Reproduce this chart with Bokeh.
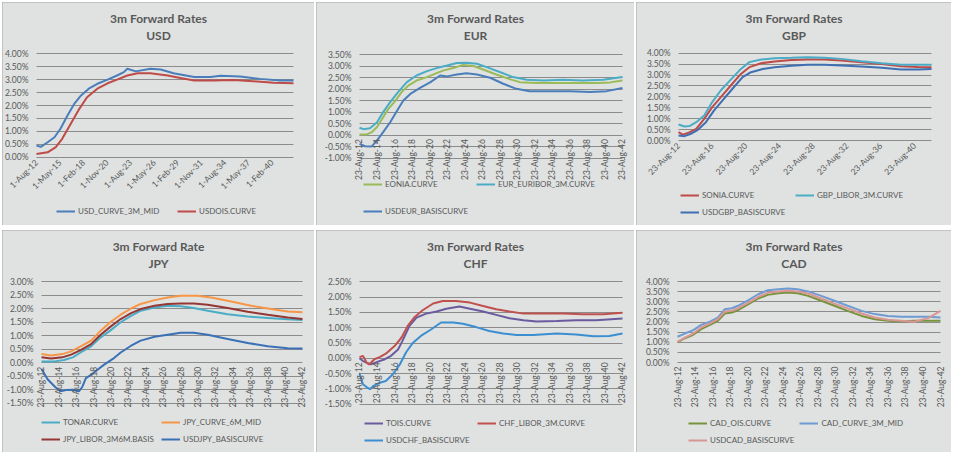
import math
from bokeh.plotting import figure
from bokeh.models import (Range1d, FixedTicker, PrintfTickFormatter, Legend,
                          LegendItem, Label)
from bokeh.layouts import row, column
from bokeh.embed import file_html
from bokeh.resources import INLINE

FONT = "Lato"
TXT = "#595959"
PANEL_BG = "#dfe2e1"
GRID = "#8c8c8c"

# ---------------- data (x in years after Aug-2012, y in %) ----------------
usd_ticks = [0, 2.75, 5.5, 8.25, 11, 13.75, 16.5, 19.25, 22, 24.75, 27.5]
usd_labels = ["1-Aug-12", "1-May-15", "1-Feb-18", "1-Nov-20", "1-Aug-23", "1-May-26",
              "1-Feb-29", "1-Nov-31", "1-Aug-34", "1-May-37", "1-Feb-40"]
biennial_ticks = [0, 2, 4, 6, 8, 10, 12, 14, 16, 18, 20, 22, 24, 26, 28, 30]
biennial_labels = ["23-Aug-12", "23-Aug-14", "23-Aug-16", "23-Aug-18", "23-Aug-20", "23-Aug-22",
                   "23-Aug-24", "23-Aug-26", "23-Aug-28", "23-Aug-30", "23-Aug-32", "23-Aug-34",
                   "23-Aug-36", "23-Aug-38", "23-Aug-40", "23-Aug-42"]
gbp_ticks = [0, 4, 8, 12, 16, 20, 24, 28]
gbp_labels = ["23-Aug-12", "23-Aug-16", "23-Aug-20", "23-Aug-24", "23-Aug-28",
              "23-Aug-32", "23-Aug-36", "23-Aug-40"]

# USD
usd_mid_x = [0, 0.5, 1.3, 2.1, 2.8, 3.6, 4.4, 5.2, 6.1, 7.1, 8.3, 9.4, 10.2, 10.6, 11.6,
             13.3, 14.5, 16.0, 18.4, 20.3, 21.5, 23.8, 26.1, 28.4, 30.0]
usd_mid_y = [0.45, 0.40, 0.58, 0.77, 1.10, 1.60, 2.06, 2.39, 2.65, 2.84, 3.00, 3.16, 3.29, 3.42, 3.32,
             3.42, 3.39, 3.25, 3.10, 3.10, 3.15, 3.12, 3.03, 2.97, 2.97]
usd_ois_x = [0, 1.3, 2.25, 3.0, 4.0, 5.0, 5.9, 7.1, 8.3, 9.4, 10.6, 11.8, 13.3, 15.3, 16.8,
             18.4, 20.7, 23.0, 25.3, 27.7, 30.0]
usd_ois_y = [0.12, 0.19, 0.39, 0.71, 1.29, 1.87, 2.32, 2.65, 2.86, 3.00, 3.16, 3.25, 3.25, 3.16, 3.06,
             2.97, 2.97, 2.99, 2.94, 2.88, 2.86]

# EUR
eonia_x = [0, 0.84, 1.4, 2.0, 2.7, 3.3, 4.1, 4.8, 5.6, 6.5, 7.7, 8.8, 9.6, 10.7, 11.8, 13.0,
           14.1, 15.6, 17.2, 18.3, 20.2, 22.5, 24.8, 27.1, 28.6, 30]
eonia_y = [0.03, 0.03, 0.13, 0.35, 0.78, 1.14, 1.50, 1.87, 2.16, 2.37, 2.52, 2.69, 2.81, 2.91, 3.05, 3.00,
           2.85, 2.63, 2.42, 2.30, 2.26, 2.26, 2.26, 2.26, 2.29, 2.37]
euribor_x = [0, 0.46, 1.2, 2.0, 2.7, 3.5, 4.4, 5.4, 6.5, 7.7, 8.8, 10.0, 11.1, 12.2, 13.4,
             14.5, 16.0, 17.5, 19.1, 21.0, 23.2, 25.5, 27.8, 30]
euribor_y = [0.32, 0.26, 0.30, 0.56, 1.00, 1.43, 1.87, 2.30, 2.59, 2.78, 2.91, 3.02, 3.13, 3.14, 3.10,
             2.95, 2.74, 2.52, 2.40, 2.37, 2.40, 2.37, 2.40, 2.52]
usdeur_x = [0, 0.65, 1.4, 2.0, 2.7, 3.5, 4.3, 5.0, 5.8, 6.9, 8.1, 9.2, 10.0, 11.1, 12.2, 13.4,
            14.9, 16.4, 17.9, 19.4, 21.7, 24.0, 26.3, 28.2, 30]
usdeur_y = [-0.38, -0.48, -0.49, -0.23, 0.13, 0.56, 1.07, 1.50, 1.79, 2.05, 2.30, 2.59, 2.55, 2.63, 2.69, 2.63,
            2.49, 2.23, 2.01, 1.91, 1.90, 1.91, 1.87, 1.91, 2.05]

# GBP
sonia_x = [0, 0.5, 1.1, 2.1, 3.05, 4.0, 5.0, 6.2, 7.4, 8.4, 9.8, 11.4, 13.4, 15.3, 17.3,
           19.3, 21.7, 24.1, 26.4, 28.4, 30]
sonia_y = [0.38, 0.27, 0.34, 0.53, 0.99, 1.53, 1.98, 2.52, 3.05, 3.36, 3.54, 3.62, 3.69, 3.71, 3.71,
           3.66, 3.59, 3.51, 3.40, 3.37, 3.36]
gbplibor_x = [0, 0.7, 1.3, 2.1, 3.05, 4.0, 5.0, 6.2, 7.4, 8.4, 9.8, 11.4, 13.4, 15.3, 17.3,
              19.3, 21.7, 24.1, 26.4, 28.4, 30]
gbplibor_y = [0.73, 0.64, 0.66, 0.84, 1.15, 1.76, 2.29, 2.79, 3.28, 3.59, 3.71, 3.77, 3.79, 3.82, 3.79,
              3.74, 3.63, 3.54, 3.47, 3.47, 3.47]
usdgbp_x = [0, 0.7, 1.5, 2.3, 3.25, 4.2, 5.2, 6.4, 7.6, 8.6, 10.0, 11.4, 13.4, 15.3, 17.3,
            19.3, 21.7, 24.1, 26.4, 28.4, 30]
usdgbp_y = [0.23, 0.20, 0.31, 0.49, 0.84, 1.37, 1.83, 2.37, 2.90, 3.13, 3.28, 3.36, 3.42, 3.47, 3.47,
            3.44, 3.39, 3.33, 3.25, 3.25, 3.28]

# JPY
tonar_x = [0, 1.5, 2.6, 3.6, 4.5, 5.7, 6.8, 7.9, 9.1, 10.3, 11.4, 13.0, 14.5, 16.0, 17.5,
           19.1, 21.4, 23.7, 26.0, 28.3, 30]
tonar_y = [0.05, 0.05, 0.10, 0.20, 0.38, 0.61, 0.94, 1.19, 1.50, 1.74, 1.93, 2.05, 2.11, 2.09, 2.03,
           1.93, 1.80, 1.71, 1.66, 1.61, 1.58]
jpy6m_x = [0, 1.1, 2.4, 3.4, 4.5, 5.7, 6.8, 7.9, 9.1, 10.3, 11.4, 13.0, 14.5, 16.0, 17.9,
           19.5, 21.8, 24.1, 26.4, 28.3, 30]
jpy6m_y = [0.32, 0.27, 0.32, 0.42, 0.61, 0.82, 1.19, 1.50, 1.78, 2.01, 2.18, 2.32, 2.42, 2.48, 2.48,
           2.42, 2.27, 2.11, 1.99, 1.90, 1.87]
jpybasis_x = [0, 1.1, 2.4, 3.4, 4.5, 5.7, 6.8, 7.9, 9.1, 10.3, 11.4, 13.0, 14.5, 16.0, 17.5,
              19.1, 21.4, 23.7, 26.0, 28.3, 30]
jpybasis_y = [0.20, 0.16, 0.20, 0.30, 0.47, 0.69, 1.04, 1.33, 1.62, 1.84, 1.99, 2.11, 2.18, 2.20, 2.20,
              2.15, 2.03, 1.89, 1.78, 1.68, 1.62]
usdjpy_x = [0, 0.7, 1.6, 2.2, 2.8, 3.6, 4.3, 4.7, 5.1, 5.7, 6.4, 7.2, 8.2, 9.1, 10.3, 11.4,
            13.0, 14.5, 16.0, 17.5, 19.1, 21.4, 23.7, 26.0, 28.3, 30]
usdjpy_y = [-0.23, -0.61, -0.91, -1.06, -1.01, -1.00, -1.06, -0.89, -0.57, -0.45, -0.27, -0.07, 0.14, 0.38, 0.63, 0.82,
            0.96, 1.04, 1.11, 1.11, 1.04, 0.88, 0.73, 0.61, 0.54, 0.53]

# CHF
tois_x = [0, 0.4, 0.8, 1.3, 2.1, 2.9, 3.6, 4.4, 4.9, 5.7, 6.5, 7.6, 8.8, 9.9, 11.4, 12.6,
          14.1, 15.6, 17.1, 18.7, 20.2, 22.5, 24.7, 27.0, 30]
tois_y = [0.00, -0.09, -0.14, -0.20, -0.11, -0.03, 0.08, 0.29, 0.57, 1.06, 1.33, 1.46, 1.53, 1.62, 1.69, 1.62,
          1.53, 1.42, 1.31, 1.24, 1.20, 1.22, 1.24, 1.24, 1.30]
chflibor_x = [0, 0.4, 0.8, 1.1, 1.7, 2.3, 3.0, 4.0, 4.8, 5.5, 6.3, 7.2, 8.4, 9.5, 11.0, 12.6,
              14.1, 15.6, 17.1, 18.7, 20.9, 23.2, 25.5, 27.8, 30]
chflibor_y = [0.04, 0.08, -0.14, -0.20, -0.03, 0.04, 0.15, 0.40, 0.68, 1.06, 1.35, 1.57, 1.79, 1.87, 1.87, 1.82,
              1.71, 1.60, 1.53, 1.46, 1.46, 1.46, 1.44, 1.44, 1.49]
usdchf_x = [0, 0.4, 0.8, 1.2, 1.6, 2.3, 3.0, 3.8, 4.6, 5.3, 6.1, 7.0, 8.2, 9.3, 10.7, 11.8,
            13.3, 14.8, 16.4, 17.9, 19.8, 22.5, 24.7, 26.7, 28.5, 30]
usdchf_y = [-0.50, -0.85, -0.94, -1.01, -0.90, -0.80, -0.74, -0.52, -0.20, 0.19, 0.51, 0.73, 0.95, 1.17, 1.17, 1.13,
            1.02, 0.89, 0.81, 0.76, 0.76, 0.81, 0.78, 0.72, 0.73, 0.81]

# CAD
cad_x = [0, 0.84, 1.8, 2.7, 3.7, 4.6, 5.4, 6.2, 6.9, 8.1, 9.2, 10.3, 11.5, 12.6, 13.7, 14.9,
         16.4, 17.9, 19.4, 21.0, 22.5, 24.0, 25.5, 27.0, 28.6, 30]
cadois_y = [0.99, 1.20, 1.37, 1.65, 1.86, 2.06, 2.42, 2.47, 2.58, 2.88, 3.16, 3.34, 3.42, 3.46, 3.42, 3.29,
            3.05, 2.80, 2.55, 2.30, 2.14, 2.06, 2.02, 2.06, 2.06, 2.06]
cad3m_y = [1.27, 1.43, 1.60, 1.86, 2.02, 2.22, 2.63, 2.68, 2.80, 3.08, 3.37, 3.57, 3.62, 3.65, 3.62, 3.51,
           3.29, 3.05, 2.80, 2.55, 2.39, 2.30, 2.26, 2.26, 2.26, 2.22]
usdcad_y = [1.02, 1.23, 1.43, 1.73, 1.93, 2.14, 2.52, 2.55, 2.68, 2.96, 3.24, 3.44, 3.51, 3.54, 3.51, 3.41,
            3.16, 2.91, 2.67, 2.42, 2.22, 2.11, 2.06, 2.01, 2.19, 2.55]

TITLE_ROWS = (15.5, 32.5)     # centres (px from panel top) of the two title lines


def y_ticks(lo, hi):
    n = int(round((hi - lo) / 0.5))
    return [lo + 0.5 * i for i in range(n + 1)]


def make_panel(head, sub, width, height, lr, yr, ypix, xticks, xlabels, orient,
               series, leg):
    bl, br = lr                      # pixel column of x=0 and distance of x=30 from right edge
    lo, hi = yr
    y_hi_px, y_lo_px = ypix          # pixel rows (from panel top) of top / bottom gridline
    ky = (y_lo_px - y_hi_px) / (hi - lo)
    ystart = lo - (height - y_lo_px) / ky
    yend = hi + y_hi_px / ky
    kx = (width - bl - br) / 30.0
    xstart = -bl / kx
    xend = 30 + br / kx
    p = figure(width=width, height=height, x_range=Range1d(xstart, xend),
               y_range=Range1d(ystart, yend),
               output_backend="svg", toolbar_location=None,
               min_border_left=0, min_border_right=0, min_border_top=0,
               min_border_bottom=0,
               styles={"outline": "1px solid #a3a3a3", "outline-offset": "-1px"})
    p.background_fill_color = PANEL_BG
    p.border_fill_color = PANEL_BG
    p.outline_line_color = None
    p.xgrid.visible = False

    yt = y_ticks(lo, hi)
    grid = p.ygrid[0]
    if hasattr(grid, "cross_bounds"):
        grid.cross_bounds = (0, 30)
        grid.grid_line_color = GRID
        grid.grid_line_width = 1
    else:
        grid.visible = False
        p.segment(x0=[0] * len(yt), x1=[30] * len(yt), y0=yt, y1=yt,
                  line_color=GRID, line_width=1)

    ya = p.yaxis[0]
    ya.ticker = FixedTicker(ticks=yt)
    ya.formatter = PrintfTickFormatter(format="%.2f%%")
    ya.axis_line_color = None
    ya.major_tick_line_color = None
    ya.minor_tick_line_color = None
    ya.major_tick_out = 0
    ya.major_tick_in = 0
    ya.major_label_standoff = 8
    ya.major_label_text_font = FONT
    ya.major_label_text_font_size = "8.5px"
    ya.major_label_text_color = TXT
    ya.fixed_location = 0

    xa = p.xaxis[0]
    xa.ticker = FixedTicker(ticks=xticks)
    xa.major_label_overrides = {t: l for t, l in zip(xticks, xlabels)}
    xa.major_label_orientation = orient
    xa.axis_line_color = None
    xa.major_tick_line_color = None
    xa.minor_tick_line_color = None
    xa.major_tick_out = 0
    xa.major_tick_in = 0
    xa.major_label_standoff = 4
    xa.major_label_text_font = FONT
    xa.major_label_text_font_size = "8.5px"
    xa.major_label_text_color = TXT
    xa.fixed_location = 0

    items = []
    for label, xs, ys, color in series:
        r = p.line(xs, ys, line_color=color, line_width=2)
        items.append(LegendItem(label=label, renderers=[r]))

    lx, ly, lw, lh = leg
    legend = Legend(items=items, orientation="horizontal", ncols=2, location=(bl + lx, ly),
                    background_fill_alpha=0, border_line_color=None, padding=0, margin=0,
                    label_text_font=FONT, label_text_font_size="8px", label_text_color=TXT,
                    glyph_width=19, glyph_height=12, label_height=lh, label_width=lw,
                    label_standoff=3, spacing=5)
    p.add_layout(legend)

    for text, row_px in zip((head, sub), TITLE_ROWS):
        p.add_layout(Label(x=width / 2, y=height - row_px, x_units="screen", y_units="screen",
                           text=text, text_align="center", text_baseline="middle",
                           text_font=FONT, text_font_size="12px", text_font_style="bold",
                           text_color=TXT))
    return p


p_usd = make_panel("3m Forward Rates", "USD", 312, 223, (34, 21), (0, 4), (51.3, 154.7),
                   usd_ticks, usd_labels, math.pi / 4,
                   [("USD_CURVE_3M_MID", usd_mid_x, usd_mid_y, "#4a7ebb"),
                    ("USDOIS.CURVE", usd_ois_x, usd_ois_y, "#be4b48")],
                   (20, 8, 94, 12))
p_eur = make_panel("3m Forward Rates", "EUR", 318, 223, (43, 12), (-1, 3.5), (52, 155.7),
                   biennial_ticks, biennial_labels, math.pi / 2,
                   [("EONIA.CURVE", eonia_x, eonia_y, "#9bbb59"),
                    ("EUR_EURIBOR_3M.CURVE", euribor_x, euribor_y, "#4bacc6"),
                    ("USDEUR_BASISCURVE", usdeur_x, usdeur_y, "#4a7ebb")],
                   (4, 3, 86, 22))
p_gbp = make_panel("3m Forward Rates", "GBP", 315, 223, (42, 20), (0, 4), (50.7, 138),
                   gbp_ticks, gbp_labels, math.pi / 4,
                   [("SONIA.CURVE", sonia_x, sonia_y, "#be4b48"),
                    ("GBP_LIBOR_3M.CURVE", gbplibor_x, gbplibor_y, "#4bacc6"),
                    ("USDGBP_BASISCURVE", usdgbp_x, usdgbp_y, "#3e6fb3")],
                   (2, 7, 88, 12))
p_jpy = make_panel("3m Forward Rate", "JPY", 312, 222, (39, 12), (-1.5, 3), (51.3, 172.7),
                   biennial_ticks, biennial_labels, math.pi / 2,
                   [("TONAR.CURVE", tonar_x, tonar_y, "#4bacc6"),
                    ("JPY_CURVE_6M_MID", jpy6m_x, jpy6m_y, "#f79646"),
                    ("JPY_LIBOR_3M6M.BASIS", jpybasis_x, jpybasis_y, "#953735"),
                    ("USDJPY_BASISCURVE", usdjpy_x, usdjpy_y, "#3a70b5")],
                   (0, 7, 93, 12))
p_chf = make_panel("3m Forward Rates", "CHF", 318, 222, (43, 12), (-1.5, 2.5), (51.3, 173.7),
                   biennial_ticks, biennial_labels, math.pi / 2,
                   [("TOIS.CURVE", tois_x, tois_y, "#6a5a9e"),
                    ("CHF_LIBOR_3M.CURVE", chflibor_x, chflibor_y, "#c0504d"),
                    ("USDCHF_BASISCURVE", usdchf_x, usdchf_y, "#3b8ed0")],
                   (5, 6, 86, 12))
p_cad = make_panel("3m Forward Rates", "CAD", 315, 222, (41, 11), (0, 4), (51, 132),
                   biennial_ticks, biennial_labels, math.pi / 2,
                   [("CAD_OIS.CURVE", cad_x, cadois_y, "#77933c"),
                    ("CAD_CURVE_3M_MID", cad_x, cad3m_y, "#6f9bd2"),
                    ("USDCAD_BASISCURVE", cad_x, usdcad_y, "#d99694")],
                   (11, 6, 81, 12))

layout = column(row(p_usd, p_eur, p_gbp, spacing=2),
                row(p_jpy, p_chf, p_cad, spacing=2),
                spacing=5, margin=(2, 0, 0, 2))

open("out.html", "w").write(file_html(layout, INLINE))
